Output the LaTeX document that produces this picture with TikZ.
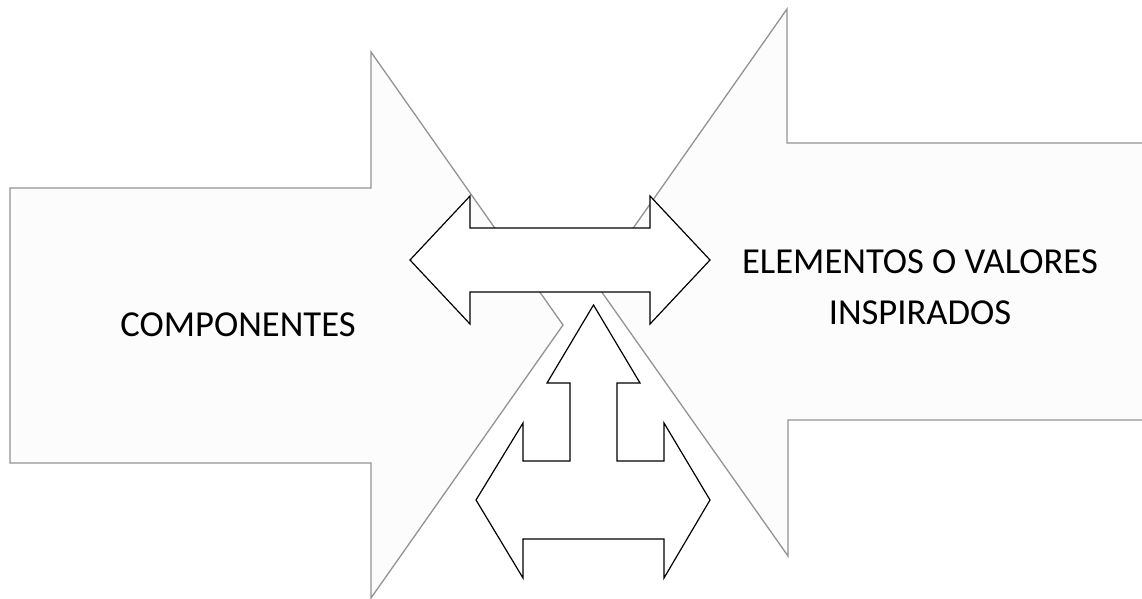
\documentclass[tikz,border=0pt]{standalone}
\usepackage{fontspec}
\setmainfont{Carlito}
\definecolor{bigfill}{HTML}{FCFCFC}
\definecolor{bigline}{HTML}{939393}
\begin{document}
\begin{tikzpicture}[x=1pt,y=-1pt,
  bigarrow/.style={draw=bigline,fill=bigfill,line width=1.3pt,line join=miter},
  smallarrow/.style={draw=black,fill=white,line width=1.2pt,line join=miter},
  lbl/.style={font=\fontsize{36.6}{51}\selectfont,text=black,align=center,inner sep=0pt}]
\clip (0,0) rectangle (1142,599);
\fill[white] (0,0) rectangle (1142,599);
% left big arrow
\draw[bigarrow] (10,188) -- (371,188) -- (371,52) -- (563,325) -- (371,598) -- (371,463) -- (10,463) -- cycle;
% right big arrow
\draw[bigarrow] (1160,143) -- (787,143) -- (787,9) -- (595,282.5) -- (788,556) -- (788,420) -- (1160,420);
% horizontal double arrow
\draw[smallarrow] (410,260) -- (470,196) -- (470,228) -- (650,228) -- (650,196) -- (710,260) -- (650,324) -- (650,292) -- (470,292) -- (470,324) -- cycle;
% up arrow with lower double arrow
\draw[smallarrow] (593.5,305) -- (640,383) -- (617,383) -- (617,461) -- (664,461) -- (664,423) -- (710,500) -- (664,578) -- (664,539) -- (523,539) -- (523,578) -- (476,500) -- (523,423) -- (523,461) -- (570,461) -- (570,383) -- (547,383) -- cycle;
\node[lbl] (comp) at (238,324.5) {COMPONENTES};
\node[lbl] (elem) at (920,287) {ELEMENTOS O VALORES\\INSPIRADOS};
\end{tikzpicture}
\end{document}
